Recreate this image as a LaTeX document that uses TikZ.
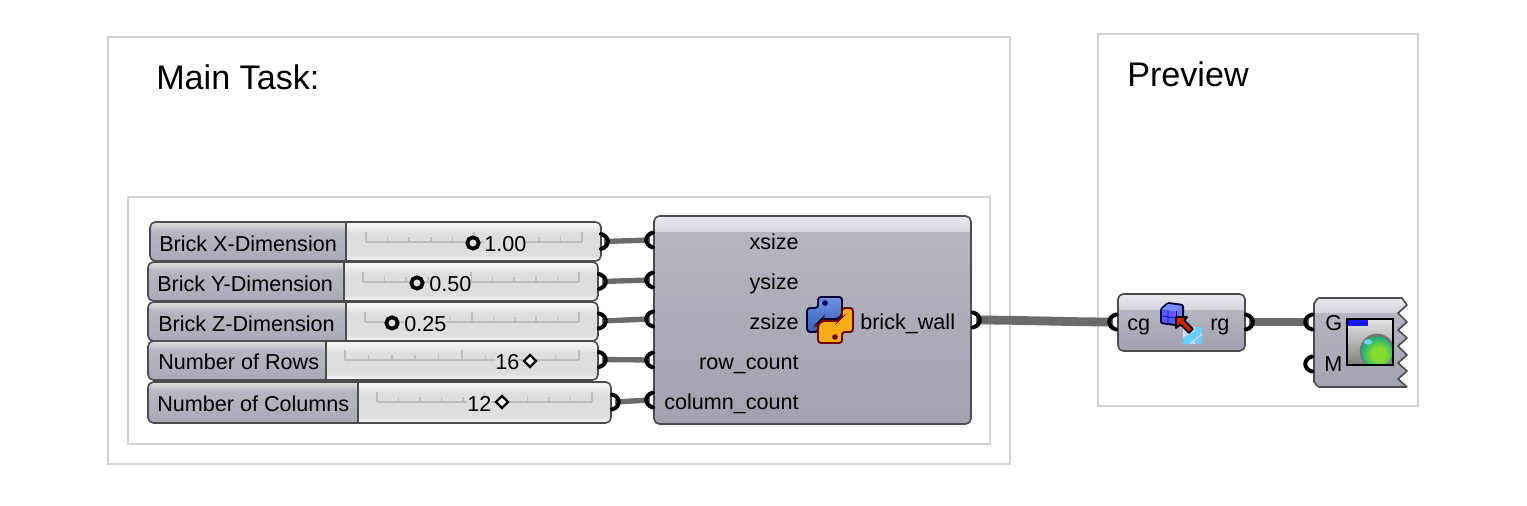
\documentclass[tikz,border=0pt]{standalone}
\usepackage{fontspec}
\setmainfont{Liberation Sans}
\usetikzlibrary{calc}
\definecolor{framec}{HTML}{D2D2D2}
\definecolor{edgec}{HTML}{4A4C50}
\definecolor{wirec}{HTML}{6A6A6A}
\definecolor{railc}{HTML}{BDBDBD}
\definecolor{bodyc}{HTML}{DEDEDE}
\definecolor{labc}{HTML}{A9A9B8}
\definecolor{pyblue}{HTML}{3F6FD8}
\definecolor{pyyellow}{HTML}{F7AE14}
\definecolor{balla}{HTML}{86DC2C}
\definecolor{ballb}{HTML}{1FB07A}
\pgfdeclareradialshading{ballsh}{\pgfpoint{3bp}{-4bp}}{color(0bp)=(balla);color(11bp)=(balla);color(27bp)=(ballb);color(100bp)=(ballb)}
\tikzset{
  x=0.75pt,y=-0.75pt,
  frame/.style={draw=framec,line width=1.5pt,fill=white},
  wire/.style={draw=wirec,line width=4pt},
  widewire/.style={draw=wirec,line width=6.6pt},
  portmark/.style={draw=black,line width=3pt,line cap=round},
  small/.style={font=\fontsize{16.2}{18}\selectfont,text=black,inner sep=0pt,anchor=base},
  smallw/.style={small,anchor=base west},
  smalle/.style={small,anchor=base east},
  valuetext/.style={smallw,fill=bodyc},
  headtext/.style={font=\fontsize{25.6}{28}\selectfont,text=black,inner sep=0pt,anchor=base west},
  compbody/.style={draw=edgec,line width=1.2pt,rounded corners=4pt},
  rail/.style={draw=railc,line width=1.5pt},
  knob/.style={draw=black,line width=2.8pt,fill=bodyc,circle,inner sep=0pt,minimum size=8.5pt},
  dia/.style={draw=black,line width=1.8pt,fill=white},
}
% name, x0, x1, y0, y1, divider, label, label x, baseline
\newcommand{\gsl}[9]{%
  \node[draw=none,fill=bodyc,rounded corners=4pt,inner sep=0pt,
        minimum width={(#3-#2)*0.75pt},minimum height={(#5-#4)*0.75pt}]
        (#1) at ({(#2+#3)/2},{(#4+#5)/2}) {};
  \begin{scope}
    \clip[rounded corners=4pt] (#2,#4) rectangle (#3,#5);
    \fill[top color=white!80!bodyc,bottom color=bodyc] (#2,#4) rectangle (#3,#4+12);
    \fill[bottom color=white!90!bodyc,top color=bodyc] (#2,#5-6) rectangle (#3,#5);
    \fill[top color=bodyc,bottom color=labc!90!white] (#2,#4) rectangle (#6,#4+10);
    \fill[top color=labc!85!white,bottom color=labc] (#2,#4+10) rectangle (#6,#5);
    \draw[edgec,line width=1.2pt] (#6,#4) -- (#6,#5);
  \end{scope}
  \draw[compbody] (#2,#4) rectangle (#3,#5);
  \node[smallw] (#1l) at (#8,#9) {#7};
}
% rail x0, x1, y
\newcommand{\grail}[3]{%
  \draw[rail] (#1,#3) -- (#2,#3);
  \foreach \k in {0,...,10}{
    \pgfmathsetmacro{\tx}{#1+\k*(#2-#1)/10}
    \pgfmathsetmacro{\th}{(\k==0||\k==5||\k==10)?10:5}
    \draw[rail,line width=1.2pt] (\tx,#3) -- (\tx,#3-\th);
  }
}
\newcommand{\gdia}[2]{\draw[dia] (#1,#2-6) -- (#1+6,#2) -- (#1,#2+6) -- (#1-6,#2) -- cycle;}
\newcommand{\gout}[1]{\draw[portmark] ($(#1)+(-3,-7.5)$) .. controls ($(#1)+(6,-5)$) and ($(#1)+(6,5)$) .. ($(#1)+(-3,7.5)$);}
\newcommand{\gin}[1]{\draw[portmark] ($(#1)+(3,-7.5)$) .. controls ($(#1)+(-6,-5)$) and ($(#1)+(-6,5)$) .. ($(#1)+(3,7.5)$);}
\newcommand{\pyhalf}[4]{%
  \draw[top color=#1,bottom color=#4,draw=#2,line width=1.4pt,rounded corners=2.2pt]
    (-12,-23) -- (12,-23) -- (12,-5) -- (8,-1) -- (-8,-1) -- (-12,3) -- (-12,12) -- (-23,12) -- (-23,-12) -- (-12,-12) -- cycle;
  \fill[#3] (-5,-17) circle (2.1pt);
}
\begin{document}
\begin{tikzpicture}
\useasboundingbox (0,0) rectangle (1527,506);
\fill[white] (0,0) rectangle (1527,506);

% frames
\draw[frame] (108,37) rectangle (1010,464);
\draw[frame] (128,197) rectangle (990,444);
\draw[frame] (1098,34) rectangle (1418,406);
\node[headtext] (maintitle) at (156,90) {Main Task:};
\node[headtext] (prevtitle) at (1127,87) {Preview};

% sliders
\gsl{s1}{150}{601}{222}{261}{346}{Brick X-Dimension}{159}{251}
\grail{366}{582}{242}
\node[valuetext] (v1) at (484,251) {1.00};
\node[knob] (k1) at (473,243) {};

\gsl{s2}{148}{598}{262}{301}{344}{Brick Y-Dimension}{157}{291}
\grail{363}{579}{282}
\node[valuetext] (v2) at (429,291) {0.50};
\node[knob] (k2) at (417,283) {};

\gsl{s3}{148}{598}{302}{341}{346}{Brick Z-Dimension}{158}{331}
\grail{365}{579}{322}
\node[valuetext] (v3) at (404,331) {0.25};
\node[knob] (k3) at (392,323) {};

\gsl{s4}{148}{598}{341}{380}{326}{Number of Rows}{158}{369}
\grail{345}{579}{360}
\node[valuetext] (v4) at (495,369) {16};
\gdia{530}{361}

\gsl{s5}{148}{611}{382}{423}{358}{Number of Columns}{157}{411}
\grail{377}{592}{402}
\node[valuetext] (v5) at (467,411) {12};
\gdia{502}{402}

% python component
\node[inner sep=0pt,minimum width=317*0.75pt,minimum height=208*0.75pt] (py) at (812.5,320) {};
\begin{scope}
  \clip[rounded corners=4pt] (654,216) rectangle (971,424);
  \fill[top color=labc!25!white,bottom color=labc!50!white] (654,216) rectangle (971,232);
  \fill[top color=labc!85!white,bottom color=labc!95!black] (654,232) rectangle (971,424);
\end{scope}
\draw[compbody] (654,216) rectangle (971,424);
\node[smalle] (lx) at (799,249) {xsize};
\node[smalle] (ly) at (799,289) {ysize};
\node[smalle] (lz) at (799,329) {zsize};
\node[smalle] (lr) at (799,369) {row\_count};
\node[smalle] (lc) at (799,409) {column\_count};
\node[smallw] (lb) at (860,329) {brick\_wall};
\begin{scope}[shift={(830,320)}]
  \pyhalf{pyblue!75!white}{black!80!blue}{black!65!blue}{pyblue!85!black}
  \begin{scope}[rotate=180]
    \pyhalf{pyyellow!92!orange}{black!55!red}{black!60!red}{pyyellow}
  \end{scope}
\end{scope}

% cg / rg component
\node[inner sep=0pt,minimum width=127*0.75pt,minimum height=57*0.75pt] (cgc) at (1181.5,322.5) {};
\begin{scope}
  \clip[rounded corners=4pt] (1118,294) rectangle (1245,351);
  \fill[top color=labc!25!white,bottom color=labc!50!white] (1118,294) rectangle (1245,310);
  \fill[top color=labc!85!white,bottom color=labc!95!black] (1118,310) rectangle (1245,351);
\end{scope}
\draw[compbody] (1118,294) rectangle (1245,351);
\node[smallw] (lcg) at (1127,330) {cg};
\node[smallw] (lrg) at (1210,330) {rg};
% cg icon
\fill[white!85!blue] (1183,327) rectangle (1202,344);
\fill[blue!30!cyan!60!white] (1183,344) -- (1183,338) -- (1202,327) -- (1202,332) -- (1192,344) -- cycle;
\fill[blue!30!cyan!60!white] (1195,327) rectangle (1202,344);
\draw[white!85!blue,line width=1pt] (1190,344) -- (1202,334);
\draw[black!80!blue,fill=blue!55!white,line width=1.5pt,line join=round,rounded corners=1pt] (1161,309) -- (1168,303) -- (1183,305) -- (1183,319) -- (1176,325) -- (1161,323) -- cycle;
\fill[blue!50!white!90!cyan] (1162,309) -- (1168,304) -- (1182,306) -- (1176,311) -- cycle;
\fill[blue!65!white] (1162,309.5) -- (1175.5,311.5) -- (1175.5,324) -- (1162,322) -- cycle;
\draw[black!70!blue,line width=.7pt] (1176,311) -- (1176,325);
\draw[blue!85!black,line width=.5pt] (1168,311) -- (1168,323) (1162,316) -- (1175,318);
\draw[fill=red!65!orange!80!black,draw=black,line width=1.3pt,line join=round] (1176,317) -- (1187,317) -- (1184.5,320.5) -- (1193,329) -- (1189,333) -- (1180.5,324.5) -- (1176,328) -- cycle;

% preview component
\node[inner sep=0pt,minimum width=93*0.75pt,minimum height=89*0.75pt] (prv) at (1360.5,342.5) {};
\begin{scope}
  \clip (1310,295) rectangle (1410,390);
  \path[clip,rounded corners=4pt] (1314,298) -- (1420,298) -- (1420,387) -- (1314,387) -- cycle;
  \clip (1300,290) -- (1402,290) -- (1402,298) -- (1407,305) -- (1398,313) -- (1407,322) -- (1398,330) -- (1407,338) -- (1398,346) -- (1407,355) -- (1398,363) -- (1407,371) -- (1398,379) -- (1407,387) -- (1407,395) -- (1300,395) -- cycle;
  \fill[top color=labc!25!white,bottom color=labc!50!white] (1310,295) rectangle (1410,313);
  \fill[top color=labc!85!white,bottom color=labc!95!black] (1310,313) rectangle (1410,390);
\end{scope}
\draw[draw=edgec,line width=1.2pt,line join=round]
  (1407,387) -- (1319,387) to[out=180,in=90] (1314,382) -- (1314,303) to[out=-90,in=180] (1319,298) -- (1402,298)
  -- (1407,305) -- (1398,313) -- (1407,322) -- (1398,330) -- (1407,338) -- (1398,346) -- (1407,355) -- (1398,363) -- (1407,371) -- (1398,379) -- (1407,387);
\node[smallw] (lg) at (1325,330) {G};
\node[smallw] (lm) at (1324,371) {M};
\begin{scope}
  \clip (1347,319) rectangle (1393,365);
  \fill[top color=white!90!black,bottom color=black!50] (1347,319) rectangle (1393,365);
  \fill[blue!90!white] (1348,320) rectangle (1368,326);
  \fill[black!55] (1377,351) circle (13pt);
  \shade[shading=ballsh] (1377,352) circle (11.6pt);
  \fill[white!45!cyan] (1368,342) ellipse (3.2pt and 2pt);
\end{scope}
\draw[black,line width=1.7pt] (1347,319) rectangle (1393,365);

% port coordinates
\coordinate (o1) at (604,241.5);
\coordinate (o2) at (602,281.5);
\coordinate (o3) at (602,321);
\coordinate (o4) at (602,359.5);
\coordinate (o5) at (615,402);
\coordinate (i1) at (650,240);
\coordinate (i2) at (650,280);
\coordinate (i3) at (650,319);
\coordinate (i4) at (650,360);
\coordinate (i5) at (650,400);
\coordinate (ob) at (976,320);
\coordinate (icg) at (1113,322);
\coordinate (org) at (1249,322);
\coordinate (ig) at (1309,322);
\coordinate (im) at (1309,364);

% wires
\draw[wire] (o1) -- (i1);
\draw[wire] (o2) -- (i2);
\draw[wire] (o3) -- (i3);
\draw[wire] (o4) -- (i4);
\draw[wire] (o5) -- (i5);
\draw[widewire] (ob) .. controls (1020,320) and (1070,322) .. (icg);
\draw[widewire] (org) -- (ig);

% port marks
\gout{o1}\gout{o2}\gout{o3}\gout{o4}\gout{o5}
\gin{i1}\gin{i2}\gin{i3}\gin{i4}\gin{i5}
\gout{ob}\gin{icg}\gout{org}\gin{ig}\gin{im}
\end{tikzpicture}
\end{document}
